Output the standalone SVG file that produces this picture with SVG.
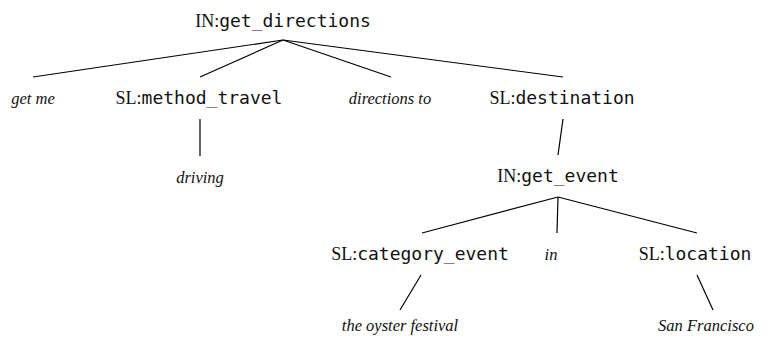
<svg xmlns="http://www.w3.org/2000/svg" width="769" height="339" viewBox="0 0 769 339">
<style>
text{font-size:18px;text-anchor:middle;fill:#111}
.lbl{font-family:'Liberation Serif',Tinos,'Times New Roman','DejaVu Serif',serif}
.m{font-family:'DejaVu Sans Mono','Liberation Mono',monospace;font-size:18px}
.w{font-family:'Liberation Serif',Tinos,'Times New Roman','DejaVu Serif',serif;font-style:italic;font-size:16.5px}
.e line{stroke:#000;stroke-width:1.2}
</style>
<rect width="769" height="339" fill="#fff"/>
<g class="e" id="edges">
<line x1="283" y1="40" x2="33" y2="77"/>
<line x1="283" y1="40" x2="200" y2="77"/>
<line x1="283" y1="40" x2="391" y2="77"/>
<line x1="283" y1="40" x2="563" y2="77"/>
<line x1="200" y1="119" x2="200" y2="156"/>
<line x1="563" y1="119" x2="558" y2="155"/>
<line x1="558" y1="197" x2="422" y2="233"/>
<line x1="558" y1="197" x2="557" y2="233"/>
<line x1="558" y1="197" x2="697" y2="233"/>
<line x1="421" y1="275" x2="400" y2="310"/>
<line x1="697" y1="275" x2="713" y2="310"/>
</g>
<g id="n-root"><text class="lbl" x="283" y="27">IN:<tspan class="m">get_directions</tspan></text></g>
<g id="n-getme"><text class="w" x="33" y="104">get me</text></g>
<g id="n-method"><text class="lbl" x="199" y="104">SL:<tspan class="m">method_travel</tspan></text></g>
<g id="n-directions"><text class="w" x="390" y="104">directions to</text></g>
<g id="n-destination"><text class="lbl" x="562" y="104">SL:<tspan class="m">destination</tspan></text></g>
<g id="n-driving"><text class="w" x="200" y="183">driving</text></g>
<g id="n-getevent"><text class="lbl" x="558" y="182">IN:<tspan class="m">get_event</tspan></text></g>
<g id="n-category"><text class="lbl" x="420" y="260">SL:<tspan class="m">category_event</tspan></text></g>
<g id="n-in"><text class="w" x="551" y="260">in</text></g>
<g id="n-location"><text class="lbl" x="695" y="260">SL:<tspan class="m">location</tspan></text></g>
<g id="n-oyster"><text class="w" x="400" y="331">the oyster festival</text></g>
<g id="n-sf"><text class="w" x="706" y="331">San Francisco</text></g>
</svg>
